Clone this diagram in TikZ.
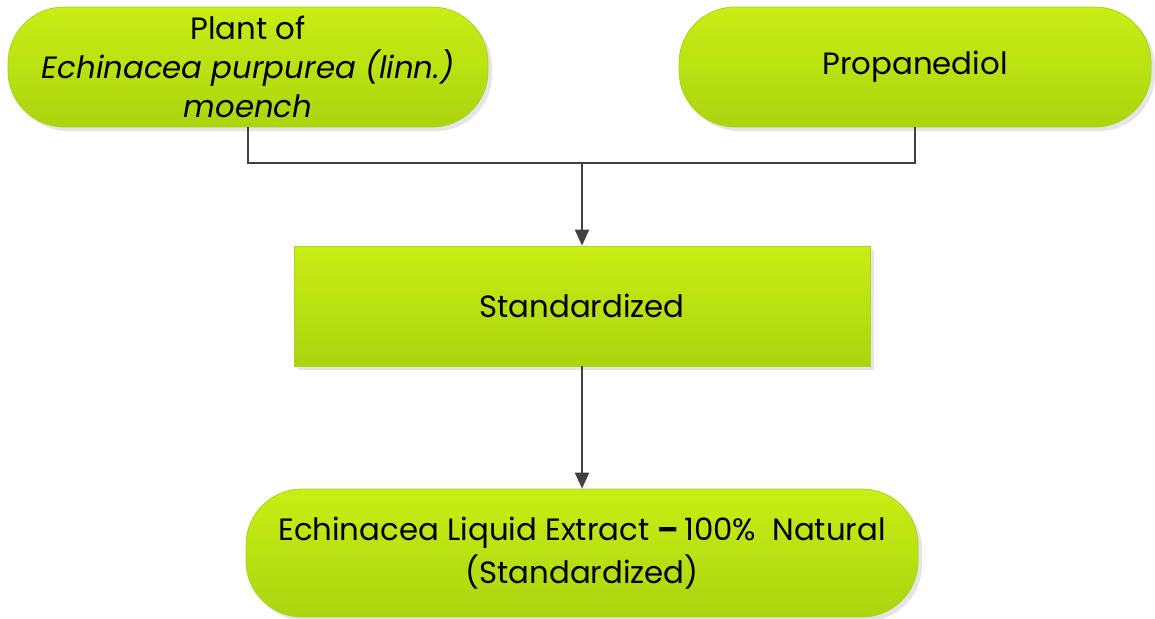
\documentclass[tikz,border=0pt]{standalone}
\usepackage{fontspec}
\setmainfont{Poppins}
\usepackage{tikz}
\usetikzlibrary{arrows.meta,positioning,shadows}
\definecolor{limetop}{RGB}{200,238,20}
\definecolor{limebot}{RGB}{172,212,14}
\definecolor{limeedge}{RGB}{160,214,40}
\definecolor{linkgray}{RGB}{64,64,64}
\tikzstyle{arrow} = [line width=1pt,draw=linkgray,-{Triangle[width=7pt,length=8pt]}]
\tikzstyle{link} = [line width=1pt,draw=linkgray]

\begin{document}
\begin{tikzpicture}[x=0.5pt,y=-0.5pt]
                \tikzstyle{stepbase}=[draw=limeedge,line width=0.4pt,top color=limetop,bottom color=limebot,
                    drop shadow={shadow xshift=2pt,shadow yshift=-2pt,fill=black!10,opacity=1},
                    align=center,font=\fontsize{15.4}{19.5}\selectfont,inner sep=0pt]
                \tikzstyle{pill}=[stepbase,rounded corners=28pt,minimum height=60pt]
                \tikzstyle{block}=[stepbase,minimum height=60pt]

                \useasboundingbox (0,0) rectangle (1155,618);
                \node [pill,minimum width=240pt] (plant) at (248,67)
                {Plant of\\\textit{Echinacea purpurea (linn.)}\\\textit{moench}};
                \node [pill,minimum width=236pt] (propane) at (915,67)
                {Propanediol};
                \node [block,minimum width=288pt] (standard) at (582,306)
                {Standardized};
                \node [pill,minimum width=336pt,minimum height=64pt,
                    font=\fontsize{15.4}{21.5}\selectfont] (extract) at (582,553)
                {Echinacea Liquid Extract \textbf{–}\,100\%\ \ Natural\\(Standardized)};
                \coordinate (join) at (582,163);
                \draw [link] (plant.south) |- (join) -| (propane.south);
                \draw [arrow] (join) -- (standard.north);
                \draw [arrow] (standard.south) -- (extract.north);
            \end{tikzpicture}
\end{document}
